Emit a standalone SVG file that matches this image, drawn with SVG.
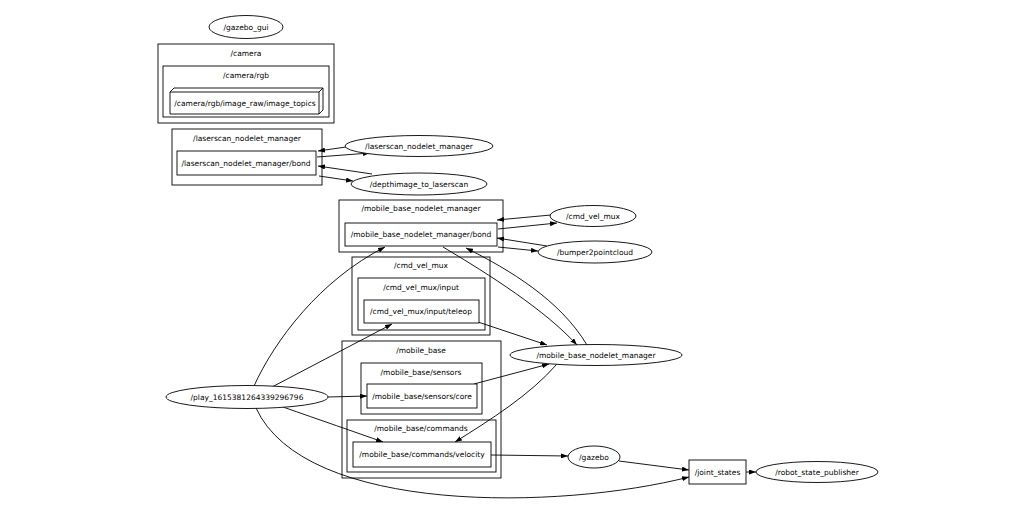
<svg xmlns="http://www.w3.org/2000/svg" width="1024" height="529" viewBox="0 0 1024 529">
<style>
text{font-family:"DejaVu Sans",sans-serif;font-size:7.5px;fill:#000;text-anchor:middle}
.c{fill:none;stroke:#000;stroke-width:0.9}
.n{fill:#fff;stroke:#000;stroke-width:0.9}
.e{fill:none;stroke:#000;stroke-width:0.9;marker-end:url(#a)}
</style>
<defs>
<marker id="a" markerUnits="userSpaceOnUse" markerWidth="7" markerHeight="5" refX="7" refY="2.5" orient="auto"><path d="M0,0 L7,2.5 L0,5 z" fill="#000"/></marker>
</defs>
<rect width="1024" height="529" fill="#fff"/>
<g id="clusters">
<g id="cl_camera"><rect class="c" x="158" y="44" width="176" height="79"/><text x="246" y="56">/camera</text></g>
<g id="cl_camera_rgb"><rect class="c" x="163" y="66" width="166" height="51"/><text x="246" y="78">/camera/rgb</text></g>
<g id="cl_laserscan"><rect class="c" x="172" y="129" width="150" height="56"/><text x="247" y="141">/laserscan_nodelet_manager</text></g>
<g id="cl_mbnm"><rect class="c" x="339" y="200" width="164" height="52"/><text x="421" y="211">/mobile_base_nodelet_manager</text></g>
<g id="cl_cmd_vel_mux"><rect class="c" x="352" y="257" width="138" height="78"/><text x="421" y="268">/cmd_vel_mux</text></g>
<g id="cl_cmd_vel_mux_input"><rect class="c" x="358" y="278" width="127" height="52"/><text x="421" y="290">/cmd_vel_mux/input</text></g>
<g id="cl_mobile_base"><rect class="c" x="342" y="341" width="159" height="137"/><text x="421" y="353">/mobile_base</text></g>
<g id="cl_sensors"><rect class="c" x="361" y="363" width="121" height="51"/><text x="421" y="375">/mobile_base/sensors</text></g>
<g id="cl_commands"><rect class="c" x="347" y="420" width="149" height="52"/><text x="421" y="431">/mobile_base/commands</text></g>
</g>
<g id="edges">
<path class="e" d="M317,157 L370,153"/>
<path class="e" d="M346,147 L318,151"/>
<path class="e" d="M372,174 L318,166"/>
<path class="e" d="M319,176 L353,181"/>
<path class="e" d="M551,215 L497,220"/>
<path class="e" d="M498,229 L557,223"/>
<path class="e" d="M547,246 L497,238"/>
<path class="e" d="M498,247 L538,251"/>
<path class="e" d="M254,386 C275,340 320,280 385,247"/>
<path class="e" d="M272,387 L392,324"/>
<path class="e" d="M328,397 L367,396"/>
<path class="e" d="M283,407 C320,420 355,432 383,442"/>
<path class="e" d="M256,408 C305,515 560,510 689,477"/>
<path class="e" d="M443,247 C490,275 545,310 577,345"/>
<path class="e" d="M587,345 C560,300 510,270 466,248"/>
<path class="e" d="M478,322 L547,345"/>
<path class="e" d="M474,384 L549,364"/>
<path class="e" d="M557,364 C530,395 490,420 455,442"/>
<path class="e" d="M491,455 L568,456"/>
<path class="e" d="M619,461 L689,470"/>
<path class="e" d="M746,472 L756,472"/>
</g>
<g id="n_gazebo_gui"><ellipse class="n" cx="246" cy="27" rx="37" ry="11.5"/><text x="246" y="29.7">/gazebo_gui</text></g>
<g id="n_image_topics"><path class="n" d="M170,92 L174,88 L323,88 L323,110 L319,114 L170,114 Z"/><path class="c" d="M170,92 L319,92 L319,114 M319,92 L323,88"/><text x="245" y="105.7">/camera/rgb/image_raw/image_topics</text></g>
<g id="n_laserscan_bond"><rect class="n" x="177" y="151" width="139" height="24"/><text x="246" y="165.7">/laserscan_nodelet_manager/bond</text></g>
<g id="n_laserscan_nodelet_manager"><ellipse class="n" cx="419" cy="146" rx="74" ry="10.5"/><text x="419" y="148.7">/laserscan_nodelet_manager</text></g>
<g id="n_depthimage_to_laserscan"><ellipse class="n" cx="419" cy="184" rx="68" ry="11"/><text x="419" y="186.7">/depthimage_to_laserscan</text></g>
<g id="n_mbnm_bond"><rect class="n" x="345" y="223" width="152" height="23"/><text x="421" y="237.2">/mobile_base_nodelet_manager/bond</text></g>
<g id="n_cmd_vel_mux"><ellipse class="n" cx="593" cy="216" rx="43" ry="10.5"/><text x="593" y="218.7">/cmd_vel_mux</text></g>
<g id="n_bumper2pointcloud"><ellipse class="n" cx="595" cy="252" rx="57" ry="11"/><text x="595" y="254.7">/bumper2pointcloud</text></g>
<g id="n_teleop"><rect class="n" x="364" y="300" width="115" height="23"/><text x="421" y="314.2">/cmd_vel_mux/input/teleop</text></g>
<g id="n_mobile_base_nodelet_manager"><ellipse class="n" cx="596" cy="355" rx="86" ry="10.5"/><text x="596" y="357.7">/mobile_base_nodelet_manager</text></g>
<g id="n_play"><ellipse class="n" cx="247" cy="397" rx="81" ry="11.5"/><text x="247" y="399.7">/play_1615381264339296796</text></g>
<g id="n_core"><rect class="n" x="367" y="384" width="110" height="24"/><text x="422" y="398.7">/mobile_base/sensors/core</text></g>
<g id="n_velocity"><rect class="n" x="353" y="442" width="138" height="25"/><text x="422" y="457.2">/mobile_base/commands/velocity</text></g>
<g id="n_gazebo"><ellipse class="n" cx="594" cy="457" rx="26" ry="11"/><text x="594" y="459.7">/gazebo</text></g>
<g id="n_joint_states"><rect class="n" x="689" y="460" width="57" height="24"/><text x="717.5" y="474.7">/joint_states</text></g>
<g id="n_robot_state_publisher"><ellipse class="n" cx="817" cy="472" rx="61" ry="10.5"/><text x="817" y="474.7">/robot_state_publisher</text></g>
</svg>
